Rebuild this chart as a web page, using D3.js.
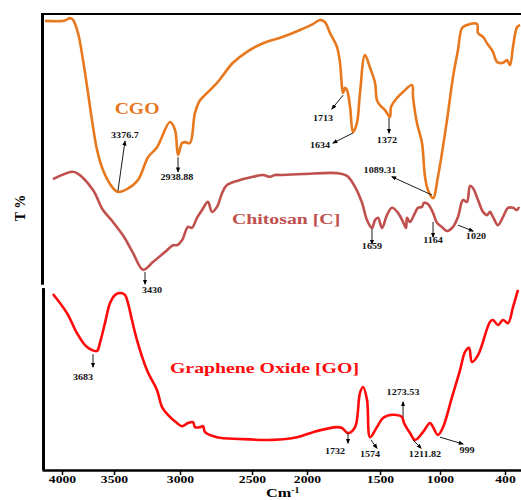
<!DOCTYPE html>
<html>
<head>
<meta charset="utf-8">
<script src="https://cdn.jsdelivr.net/npm/d3@7"></script>
<style>
  body { margin: 0; background: #fff; }
  text { font-family: "Liberation Serif", "Times New Roman", serif; font-weight: bold; }
</style>
</head>
<body>
<div id="chart"></div>
<script>
// wavenumber ticks (the printed axis is not evenly spaced)
const tickVals = [4000, 3500, 3000, 2500, 2000, 1500, 1000, 400];

// CGO spectrum: wavenumber (cm-1) and transmittance (arbitrary %)
const cgoWave = [4162, 3981, 3923, 3894, 3846, 3798, 3750, 3712, 3663, 3606, 3519, 3470, 3402, 3318, 3242, 3174, 3076, 3038, 3015, 2986, 2965, 2931, 2896, 2861, 2840, 2743, 2632, 2535, 2400, 2218, 2064, 1959, 1911, 1877, 1842, 1795, 1774, 1753, 1740, 1726, 1705, 1685, 1658, 1637, 1603, 1568, 1534, 1521, 1500, 1458, 1417, 1408, 1358, 1308, 1233, 1225, 1192, 1150, 1125, 1100, 1058, 1017, 935, 880, 834, 797, 751, 658, 649, 603, 566, 511, 474, 418, 382, 354, 326, 289, 261];
const cgoT = [98.5, 98.5, 99.1, 98.7, 95.8, 89.9, 82.7, 76.8, 70.2, 65.8, 62.1, 61.0, 61.6, 63.6, 68.6, 70.8, 76.3, 74.6, 69.1, 71.7, 71.9, 71.7, 78.3, 81.1, 81.8, 84.9, 89.3, 91.7, 93.6, 95.0, 96.5, 97.8, 98.7, 98.2, 95.8, 92.8, 89.3, 82.7, 83.8, 83.3, 79.6, 74.1, 76.1, 82.7, 91.0, 88.2, 84.9, 81.1, 80.0, 78.9, 77.4, 79.6, 81.6, 82.9, 84.4, 81.8, 76.1, 71.7, 64.3, 61.4, 59.6, 64.3, 76.8, 86.2, 92.1, 96.9, 97.6, 97.8, 95.8, 95.0, 93.6, 91.7, 89.5, 89.3, 89.9, 88.8, 92.8, 97.1, 97.6];

// Chitosan spectrum
const chiWave = [4086, 3904, 3856, 3702, 3606, 3510, 3424, 3356, 3280, 3205, 3114, 3053, 3023, 2986, 2944, 2917, 2882, 2847, 2806, 2778, 2743, 2708, 2674, 2583, 2491, 2400, 2336, 2291, 2245, 2036, 1794, 1726, 1671, 1623, 1589, 1555, 1534, 1514, 1483, 1442, 1400, 1350, 1308, 1283, 1275, 1250, 1208, 1183, 1150, 1133, 1100, 1083, 1058, 1025, 982, 935, 880, 834, 788, 751, 723, 695, 649, 603, 566, 538, 511, 465, 418, 372, 326, 289, 270];
const chiT = [63.8, 65.4, 65.1, 61.4, 57.0, 54.4, 51.1, 47.6, 43.9, 45.6, 47.8, 49.3, 49.3, 50.4, 53.3, 53.1, 55.3, 57.0, 58.8, 56.6, 57.7, 60.7, 62.5, 63.6, 64.3, 64.7, 64.3, 64.7, 64.7, 64.9, 65.1, 64.5, 62.1, 58.6, 54.8, 53.1, 54.8, 55.3, 53.1, 55.9, 57.5, 56.4, 54.4, 53.1, 55.3, 54.4, 56.4, 57.5, 57.7, 58.6, 58.3, 57.7, 56.4, 54.2, 53.3, 52.4, 53.3, 55.5, 59.2, 58.8, 62.3, 61.8, 59.2, 56.6, 55.9, 56.6, 55.5, 53.7, 55.5, 57.5, 57.5, 57.0, 57.7];

// Graphene oxide spectrum
const goWave = [4086, 3952, 3856, 3779, 3712, 3663, 3635, 3587, 3538, 3492, 3455, 3417, 3394, 3364, 3326, 3250, 3174, 3136, 3091, 3023, 2986, 2944, 2910, 2896, 2861, 2840, 2826, 2743, 2583, 2309, 2091, 1959, 1795, 1760, 1719, 1671, 1637, 1616, 1589, 1568, 1521, 1475, 1392, 1317, 1300, 1250, 1208, 1142, 1083, 1058, 1017, 972, 889, 815, 769, 732, 705, 649, 538, 511, 465, 418, 372, 326, 280];
const goT = [38.6, 34.4, 30.0, 27.4, 26.3, 26.1, 27.9, 32.2, 36.6, 38.4, 38.8, 38.4, 36.6, 32.9, 28.5, 21.9, 17.5, 13.8, 12.1, 10.3, 9.6, 10.3, 10.5, 9.4, 9.4, 9.6, 8.3, 7.2, 6.8, 6.6, 7.2, 8.3, 9.4, 9.2, 8.1, 9.4, 16.9, 18.2, 15.4, 7.2, 9.4, 11.4, 12.1, 11.6, 10.3, 8.1, 6.6, 8.3, 10.3, 9.4, 7.7, 9.4, 16.0, 21.9, 25.9, 26.8, 23.7, 25.2, 32.5, 32.9, 31.8, 32.9, 32.2, 35.7, 39.5];

// peak annotations: label, arrow from (wave, T) to (wave, T), text anchor (wave, T)
const annLabels = ["3376.7", "2938.88", "1713", "1634", "1372", "1089.31", "3430", "1659", "1164", "1020", "3683", "1732", "1574", "1273.53", "1211.82", "999"];
const annFrom = [[3470, 61.2], [3015, 68.6], [1753, 82.2], [1685, 73.9], [1425, 77.2], [1067, 60.3], [3265, 43.4], [1555, 52.9], [1058, 54.4], [834, 53.7], [3702, 25.4], [1719, 8.1], [1562, 6.6], [1308, 11.6], [1225, 6.6], [1000, 7.2]];
const annTo = [[3417, 72.1], [3015, 65.4], [1829, 79.2], [1822, 71.7], [1425, 73.9], [1400, 64.3], [3265, 40.8], [1555, 49.6], [1058, 51.1], [695, 52.4], [3702, 22.6], [1719, 5.9], [1521, 4.8], [1308, 14.9], [1158, 4.8], [788, 5.7]];
const annText = [[3417, 72.8], [3023, 63.6], [1890, 76.5], [1911, 70.6], [1442, 71.7], [1500, 65.1], [3212, 38.8], [1555, 48.5], [1058, 49.8], [668, 50.7], [3798, 19.7], [1808, 3.5], [1568, 2.9], [1308, 16.4], [1125, 2.9], [751, 3.7]];

const width = 521;
const height = 500;

const svg = d3.select("#chart")
  .append("svg")
  .attr("width", width)
  .attr("height", height);

// piecewise scale so ticks sit where the original printed them
const x = d3.scaleLinear()
  .domain([4190, 4000, 3500, 3000, 2500, 2000, 1500, 1000, 400, 252])
  .range([42, 62, 114, 180, 252, 307, 380, 440, 505, 521]);

const y = d3.scaleLinear()
  .domain([0, 100])
  .range([470, 14]);

// text in the original is horizontally stretched
function wideText(px, py, str, size, color, sx, anchor) {
  return svg.append("text")
    .attr("transform", `translate(${px}, ${py}) scale(${sx}, 1)`)
    .attr("text-anchor", anchor || "start")
    .style("font-size", size + "px")
    .attr("fill", color)
    .text(str);
}

// arrowhead marker
svg.append("defs").append("marker")
  .attr("id", "arrow")
  .attr("viewBox", "0 0 10 10")
  .attr("refX", 8)
  .attr("refY", 5)
  .attr("markerWidth", 6)
  .attr("markerHeight", 6)
  .attr("orient", "auto")
  .append("path")
  .attr("d", "M0,1 L10,5 L0,9 z")
  .attr("fill", "#000");

// frame: top line and broken left axis
svg.append("line")
  .attr("x1", x.range()[0]).attr("x2", width)
  .attr("y1", y(100)).attr("y2", y(100))
  .attr("stroke", "#000").attr("stroke-width", 2);

svg.append("line")
  .attr("x1", 42.5).attr("x2", 42.5)
  .attr("y1", y(100) - 1).attr("y2", y(40.6))
  .attr("stroke", "#000").attr("stroke-width", 3);

svg.append("line")
  .attr("x1", 43.5).attr("x2", 43.5)
  .attr("y1", y(39.9)).attr("y2", y(0))
  .attr("stroke", "#000").attr("stroke-width", 3);

// bottom axis
const xAxis = d3.axisBottom(x)
  .tickValues(tickVals)
  .tickSize(5)
  .tickSizeOuter(0)
  .tickFormat(d3.format("d"));

const gx = svg.append("g")
  .attr("transform", `translate(0, ${y(0)})`)
  .call(xAxis);

gx.select(".domain").attr("stroke-width", 2.5);
gx.selectAll(".tick line").attr("stroke-width", 1.5);
gx.selectAll(".tick text")
  .attr("y", 6)
  .attr("transform", "scale(1.3, 1)")
  .style("font-family", "'Liberation Serif', serif")
  .style("font-weight", "bold")
  .style("font-size", "10.5px");

// spectra
const line = d3.line()
  .x((d) => x(d[0]))
  .y((d) => y(d[1]))
  .curve(d3.curveCatmullRom.alpha(0.5));

const series = [
  { wave: cgoWave, t: cgoT, color: "#e8781e" },
  { wave: chiWave, t: chiT, color: "#c0504d" },
  { wave: goWave, t: goT, color: "#ff0a0a" }
];

series.forEach((s) => {
  svg.append("path")
    .datum(s.wave.map((w, i) => [w, s.t[i]]))
    .attr("d", line)
    .attr("fill", "none")
    .attr("stroke", s.color)
    .attr("stroke-width", 2.6)
    .attr("stroke-linejoin", "round");
});

// peak arrows and labels
annLabels.forEach((label, i) => {
  svg.append("line")
    .attr("x1", x(annFrom[i][0])).attr("y1", y(annFrom[i][1]))
    .attr("x2", x(annTo[i][0])).attr("y2", y(annTo[i][1]))
    .attr("stroke", "#000")
    .attr("stroke-width", 0.9)
    .attr("marker-end", "url(#arrow)");

  wideText(x(annText[i][0]), y(annText[i][1]), label, 7.5, "#111", 1.35, "middle");
});

// series names
wideText(x(3495), y(78.1), "CGO", 16, "#e8781e", 1.23);
wideText(x(2639), y(54), "Chitosan [C]", 15, "#c0504d", 1.32);
wideText(x(3076), y(21.3), "Graphene Oxide [GO]", 15, "#ff0a0a", 1.32);

// axis titles
svg.append("text")
  .attr("transform", "translate(25, 208) rotate(-90)")
  .attr("text-anchor", "middle")
  .style("font-size", "14px")
  .text("T %");

const xt = wideText(266, 497, "Cm", 12.5, "#000", 1.3);
xt.append("tspan")
  .attr("dy", -4.5)
  .style("font-size", "7.5px")
  .text("-1");
</script>
</body>
</html>
